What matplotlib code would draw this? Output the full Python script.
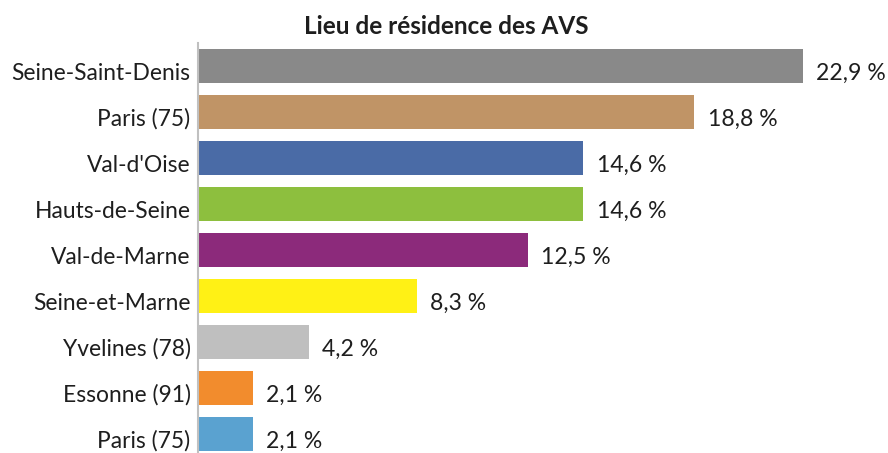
import matplotlib
import matplotlib.pyplot as plt
from matplotlib.transforms import offset_copy

matplotlib.use('Agg')

# Data (top to bottom as in the chart)
categories = [
    "Seine-Saint-Denis", "Paris (75)", "Val-d'Oise", "Hauts-de-Seine",
    "Val-de-Marne", "Seine-et-Marne", "Yvelines (78)", "Essonne (91)",
    "Paris (75)",
]
values = [22.9, 18.8, 14.6, 14.6, 12.5, 8.3, 4.2, 2.1, 2.1]
colors = [
    "#898989", "#c09466", "#4a6ba6", "#8dbf3e", "#8c2a7b",
    "#fff115", "#bfbfbf", "#f28c2d", "#5aa2d0",
]
title = "Lieu de résidence des AVS"

FONT = "Lato"
TEXT_COLOR = "#1e1e1e"


def main() -> None:
    fig = plt.figure(figsize=(8.88, 4.53), dpi=100)
    # axes placed in pixel terms: left spine at x~197, top at y~43
    W, H = 888, 453
    left, right = 197.5, 197.5 + 25 * 26.43
    top, bottom = 43, 453
    ax = fig.add_axes([left / W, 1 - bottom / H, (right - left) / W, (bottom - top) / H])

    ypos = list(range(len(categories)))
    ax.barh(ypos, values, height=0.74, color=colors, zorder=2)

    # labels in the original sit a few pixels below the bar centre
    val_tr = offset_copy(ax.transData, fig=fig, x=0, y=-7, units="dots")
    cat_tr = offset_copy(ax.get_yaxis_transform(), fig=fig, x=-7, y=-7, units="dots")
    for y, v, name in zip(ypos, values, categories):
        ax.text(v + 0.5, y, f"{v:.1f} %".replace(".", ","), va="center", ha="left",
                fontsize=16.6, family=FONT, color=TEXT_COLOR, transform=val_tr)
        ax.text(0, y, name, va="center", ha="right", fontsize=16.4, family=FONT,
                color=TEXT_COLOR, transform=cat_tr, clip_on=False)

    ax.set_xlim(0, 25)
    ax.set_ylim(8.41, -0.5)
    ax.set_yticks([])
    ax.set_xticks([])

    for side in ("top", "right", "bottom"):
        ax.spines[side].set_visible(False)
    ax.spines["left"].set_color("#c0c0c0")
    ax.spines["left"].set_linewidth(1.5)

    fig.text(0.503, 1 - 26 / H, title, ha="center", va="center", fontsize=17.5,
             fontweight="bold", family=FONT, color=TEXT_COLOR)

    fig.savefig("out.png", dpi=100)
    plt.close(fig)


if __name__ == "__main__":
    main()
